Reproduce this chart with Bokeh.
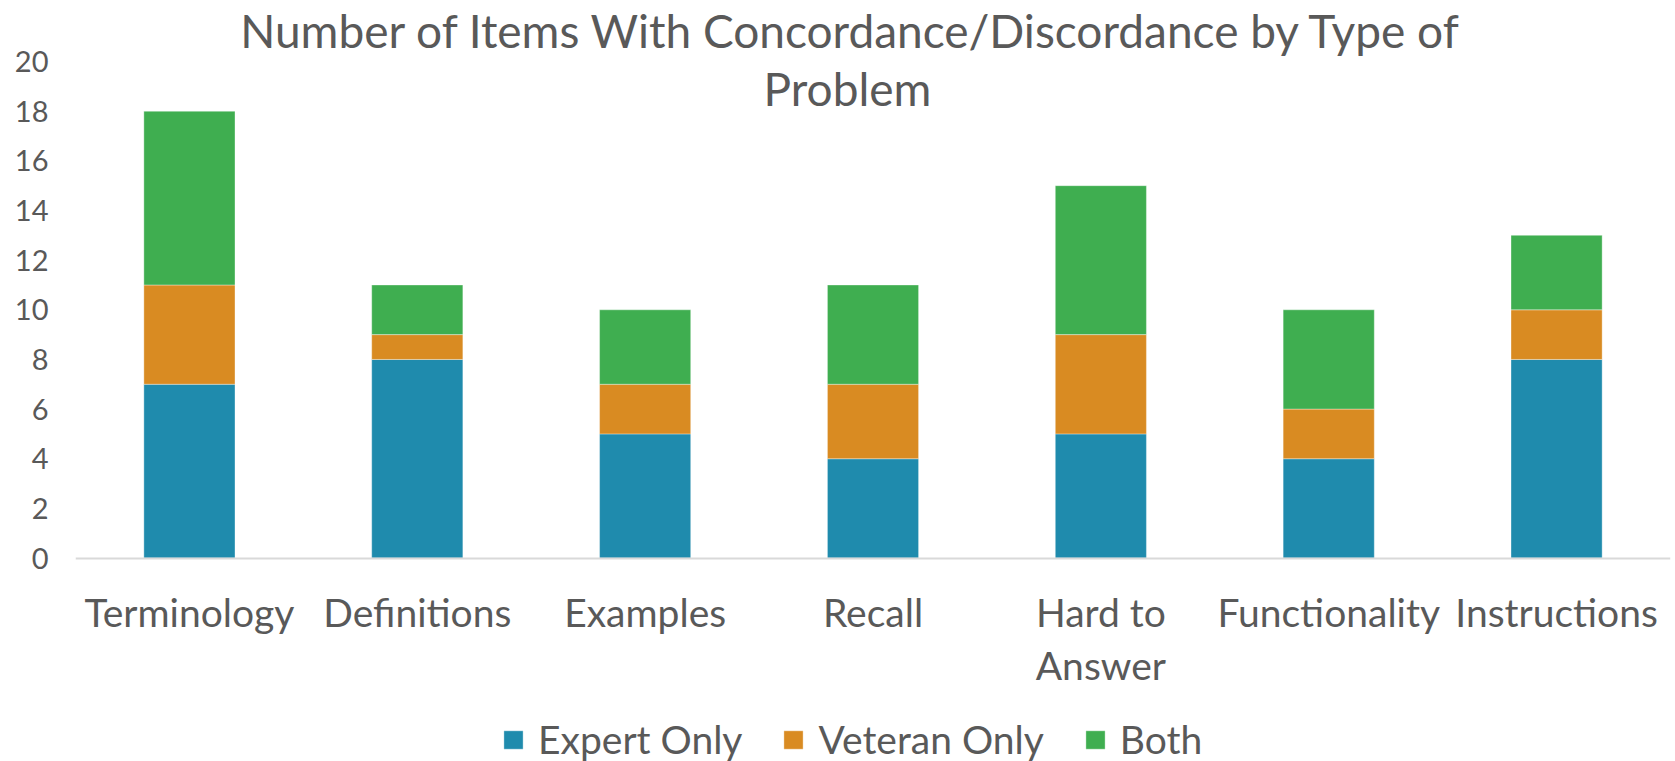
from bokeh.plotting import figure
from bokeh.models import FactorRange, FixedTicker, Label, Legend, Range1d
from bokeh.core.properties import value
from bokeh.embed import file_html
from bokeh.resources import INLINE

categories = ["Terminology", "Definitions", "Examples", "Recall",
              "Hard to Answer", "Functionality", "Instructions"]
category_labels = ["Terminology", "Definitions", "Examples", "Recall",
                   "Hard to\nAnswer", "Functionality", "Instructions"]
expert_only = [7, 8, 5, 4, 5, 4, 8]
veteran_only = [4, 1, 2, 3, 4, 2, 2]
both = [7, 2, 3, 4, 6, 4, 3]
series = ["Expert Only", "Veteran Only", "Both"]
colors = ["#1F8BAD", "#D98B22", "#3FAE50"]
y_ticks = [0, 2, 4, 6, 8, 10, 12, 14, 16, 18, 20]
title_lines = ["Number of Items With Concordance/Discordance by Type of", "Problem"]

FONT = "Lato"
TXT = "#595959"

W, H = 1675, 761
LEFT, RIGHT = 75, 5
ZERO_PX, TOP20_PX = 557.5, 61.1           # pixel rows of y=0 and y=20
ppu = (ZERO_PX - TOP20_PX) / 20.0
y_end = 20 + TOP20_PX / ppu
y_start = -(H - ZERO_PX) / ppu

data = {"cat": categories, "Expert Only": expert_only,
        "Veteran Only": veteran_only, "Both": both}

p = figure(width=W, height=H, output_backend="svg", toolbar_location=None,
           x_range=FactorRange(factors=categories, range_padding=0),
           y_range=Range1d(y_start, y_end),
           min_border_left=LEFT, min_border_right=RIGHT,
           min_border_top=0, min_border_bottom=0)
p.outline_line_color = None
p.background_fill_color = "white"
p.border_fill_color = "white"
p.grid.visible = False

renderers = p.vbar_stack(series, x="cat", width=0.4, source=data,
                         color=colors, line_color="white", line_width=0.6,
                         line_alpha=0.6)

# y axis
p.yaxis.ticker = FixedTicker(ticks=y_ticks)
p.yaxis.axis_line_color = None
p.yaxis.major_tick_line_color = None
p.yaxis.minor_tick_line_color = None
p.yaxis.major_label_text_font = FONT
p.yaxis.major_label_text_font_size = "29px"
p.yaxis.major_label_text_color = TXT
p.yaxis.major_label_standoff = 21

# x axis drawn at y = 0
p.xaxis.fixed_location = 0
p.xaxis.axis_line_color = "#D9D9D9"
p.xaxis.axis_line_width = 2
p.xaxis.major_tick_line_color = None
p.xaxis.minor_tick_line_color = None
p.xaxis.major_label_text_color = None
p.xaxis.major_label_text_font_size = "0px"

# category labels (multi-line aware)
p.text(x=categories, y=[0] * len(categories), text=category_labels,
       text_font=value(FONT), text_font_size="39px", text_color=TXT,
       text_align="center", text_baseline="top", y_offset=31,
       text_line_height=1.15)

# title (x measured from the frame's left edge)
title_y = [H - 45 + 15, H - 103.3 + 15]
title_x = [776.5, 772]
for line, tx, ty in zip(title_lines, title_x, title_y):
    p.add_layout(Label(x=tx, y=ty, x_units="screen", y_units="screen", text=line,
                       text_font=FONT, text_font_size="46px",
                       text_color=TXT, text_align="center",
                       text_baseline="alphabetic"))

legend = Legend(items=[(s, [r]) for s, r in zip(series, renderers)],
                orientation="horizontal", location=(501 - LEFT, -1),
                glyph_width=24, glyph_height=23, label_height=23,
                label_standoff=13, spacing=39, padding=0, margin=0,
                border_line_color=None, background_fill_alpha=0,
                label_text_font=FONT, label_text_font_size="39px",
                label_text_color=TXT)
p.add_layout(legend, "center")

open("out.html", "w").write(file_html(p, INLINE))
